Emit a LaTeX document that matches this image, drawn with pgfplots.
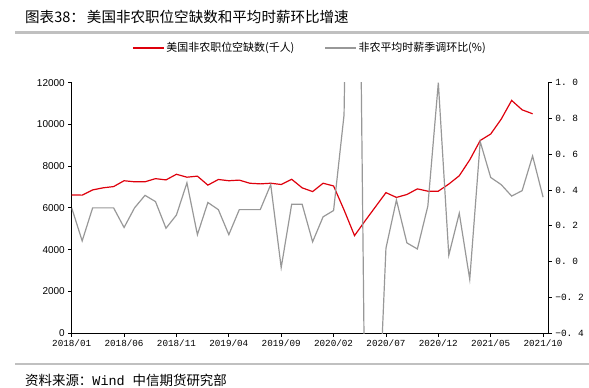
\documentclass[border=0pt]{standalone}
\usepackage{fontspec}
\setmainfont{Noto Sans CJK SC}
\newfontfamily\lsans{Liberation Sans}
\setmonofont{Liberation Mono}
\usepackage{pgfplots}
\pgfplotsset{compat=1.18}
\definecolor{jred}{RGB}{222,0,12}
\definecolor{jgray}{RGB}{152,152,152}
\definecolor{rulegray}{RGB}{192,192,192}

\pgfplotstableread{
i v
0 6620
1 6610
2 6860
3 6960
4 7020
5 7300
6 7250
7 7250
8 7400
9 7340
10 7610
11 7470
12 7520
13 7090
14 7360
15 7300
16 7330
17 7180
18 7150
19 7180
20 7120
21 7370
22 6960
23 6780
24 7180
25 7050
26 5900
27 4670
28 5370
29 6050
30 6730
31 6500
32 6640
33 6910
34 6800
35 6800
36 7140
37 7540
38 8300
39 9230
40 9540
41 10250
42 11150
43 10700
44 10510
}\openings

\pgfplotstableread{
i v
0 0.30
1 0.115
2 0.30
3 0.30
4 0.30
5 0.19
6 0.30
7 0.37
8 0.335
9 0.186
10 0.26
11 0.44
12 0.15
13 0.33
14 0.29
15 0.15
16 0.29
17 0.29
18 0.29
19 0.43
20 -0.034
21 0.32
22 0.32
23 0.11
24 0.25
25 0.285
26 0.82
27 4.5
28 -0.93
29 -1.31
30 0.074
31 0.344
32 0.104
33 0.07
34 0.31
35 1.0
36 0.035
37 0.27
38 -0.10
39 0.67
40 0.47
41 0.43
42 0.366
43 0.396
44 0.59
45 0.36
}\wages

\begin{document}
\begin{tikzpicture}
\useasboundingbox (0bp,0bp) rectangle (589bp,-388bp);
\node[anchor=west,inner sep=0pt,font=\fontsize{14.6}{16}\selectfont] at (25bp,-17bp) {图表38：\hspace{2bp}美国非农职位空缺数和平均时薪环比增速};
\fill[rulegray] (15bp,-31bp) rectangle (589bp,-33.7bp);
\fill[rulegray] (15bp,-362.7bp) rectangle (589bp,-365.3bp);
\node[anchor=west,inner sep=0pt,font=\fontsize{13.5}{15}\selectfont] at (25bp,-380bp) {资料来源：{\ttfamily\fontsize{13.5}{15}\selectfont Wind}\hspace{8bp}中信期货研究部};

\begin{axis}[
  at={(71.7bp,-333bp)}, anchor=south west,
  scale only axis, width=476.6bp, height=250.3bp,
  xmin=0, xmax=45.5, ymin=0, ymax=12000,
  axis x line*=bottom, axis y line*=left,
  axis line style={black, line width=0.8pt, -},
  tick align=outside, major tick length=3.5bp,
  tick style={black, line width=0.8pt},
  xtick={0,5,...,45},
  xticklabels={2018/01,2018/06,2018/11,2019/04,2019/09,2020/02,2020/07,2020/12,2021/05,2021/10},
  x tick label style={font=\ttfamily\fontsize{9.3}{10}\selectfont},
  ytick={0,2000,...,12000},
  scaled y ticks=false,
  y tick label style={font=\lsans\fontsize{10}{11}\selectfont},
  /pgf/number format/1000 sep={},
  /pgf/number format/assume math mode=true,
  legend style={at={(0.5,1.139)}, anchor=center, draw=none, fill=none,
    legend columns=2, font=\fontsize{11}{12}\selectfont,
    /tikz/every even column/.append style={column sep=28bp}},
  legend image code/.code={\draw[#1] (0bp,0bp) -- (31bp,0bp);},
]
\addplot[jred, line width=1.2pt] table[x=i,y=v] {\openings};
\addlegendentry{美国非农职位空缺数(千人)}
\addlegendimage{jgray, line width=1.2pt}
\addlegendentry{非农平均时薪季调环比(\%)}
\end{axis}

\begin{axis}[
  at={(71.7bp,-333bp)}, anchor=south west,
  scale only axis, width=476.6bp, height=250.3bp,
  xmin=0, xmax=45.5, ymin=-0.4, ymax=1.0,
  axis x line=none, axis y line*=right,
  axis line style={black, line width=0.8pt, -},
  tick align=outside, major tick length=3.5bp,
  tick style={black, line width=0.8pt},
  ytick={-0.4,-0.2,0,0.2,0.4,0.6,0.8,1.0},
  yticklabels={−0. 4,−0. 2,0. 0,0. 2,0. 4,0. 6,0. 8,1. 0},
  y tick label style={font=\ttfamily\fontsize{9.5}{10}\selectfont},
]
\addplot[jgray, line width=1.2pt] table[x=i,y=v] {\wages};
\end{axis}
\end{tikzpicture}
\end{document}
